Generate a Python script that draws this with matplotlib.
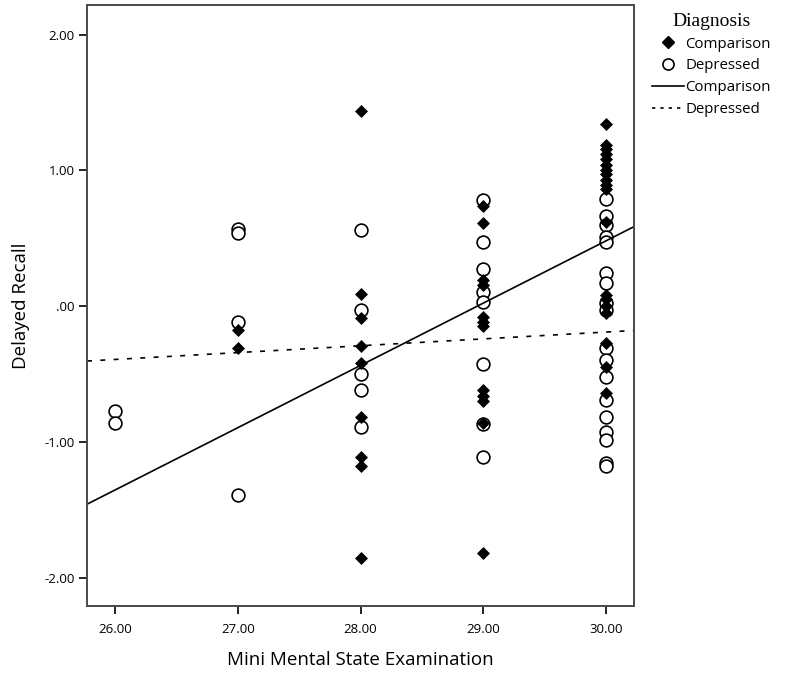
import numpy as np
import matplotlib
matplotlib.use("Agg")
import matplotlib.pyplot as plt
from matplotlib.lines import Line2D

# Comparison group (filled diamonds)
comp_x = [27, 27,
          28, 28, 28, 28, 28, 28, 28, 28, 28,
          29, 29, 29, 29, 29, 29, 29, 29, 29, 29, 29, 29,
          30, 30, 30, 30, 30, 30, 30, 30, 30, 30, 30, 30, 30, 30, 30, 30, 30, 30, 30]
comp_y = [-0.18, -0.31,
          1.44, 0.088, -0.09, -0.295, -0.42, -0.82, -1.115, -1.18, -1.855,
          0.737, 0.61, 0.19, 0.155, -0.08, -0.115, -0.15, -0.62, -0.66, -0.70, -0.86, -1.82,
          1.34, 1.19, 1.16, 1.12, 1.08, 1.04, 1.00, 0.97, 0.93, 0.89, 0.86, 0.62,
          0.08, 0.05, 0.00, -0.05, -0.275, -0.45, -0.64]

# Depressed group (open circles)
dep_x = [26, 26,
         27, 27, 27, 27,
         28, 28, 28, 28, 28,
         29, 29, 29, 29, 29, 29, 29, 29,
         30, 30, 30, 30, 30, 30, 30, 30, 30, 30, 30, 30, 30, 30, 30, 30, 30, 30]
dep_y = [-0.77, -0.86,
         0.57, 0.54, -0.12, -1.39,
         0.56, -0.03, -0.50, -0.62, -0.89,
         0.78, 0.47, 0.27, 0.105, 0.03, -0.43, -0.87, -1.11,
         0.786, 0.66, 0.60, 0.51, 0.47, 0.245, 0.17, 0.02, -0.03,
         -0.31, -0.40, -0.52, -0.69, -0.82, -0.93, -0.99, -1.16, -1.18]

# fit lines: value at x = 25.77 and x = 30.23
fit_x = [25.77, 30.23]
comp_fit = [-1.46, 0.585]
dep_fit = [-0.405, -0.18]

xticks = [26, 27, 28, 29, 30]
xlabels = ["26.00", "27.00", "28.00", "29.00", "30.00"]
yticks = [-2, -1, 0, 1, 2]
ylabels = ["-2.00", "-1.00", ".00", "1.00", "2.00"]

plt.rcParams["font.family"] = ["Open Sans", "DejaVu Sans"]

fig = plt.figure(figsize=(8, 6.75), dpi=100)
ax = fig.add_axes([0.10875, 0.1022, 0.68375, 0.8904])

ax.plot(dep_x, dep_y, ls="", marker="o", ms=9.2, mfc="white", mec="black", mew=1.2)
ax.plot(comp_x, comp_y, ls="", marker="D", ms=6, mfc="black", mec="black", mew=0.5)
ax.plot(fit_x, comp_fit, color="black", lw=1.2)
ax.plot(fit_x, dep_fit, color="black", lw=1.2, dashes=(3, 5))

ax.set_xlim(25.77, 30.23)
ax.set_ylim(-2.21, 2.218)
ax.set_xticks(xticks)
ax.set_xticklabels(xlabels)
ax.set_yticks(yticks)
ax.set_yticklabels(ylabels)
ax.tick_params(direction="out", length=6, width=1.2, labelsize=9.5, colors="black")
ax.tick_params(axis="x", pad=6)
ax.tick_params(axis="y", pad=3)
for s in ax.spines.values():
    s.set_color("#4a4a4a")
    s.set_linewidth(1.4)

ax.set_xlabel("Mini Mental State Examination", fontsize=13.5, labelpad=11)
ax.set_ylabel("Delayed Recall", fontsize=13.5, labelpad=10)

handles = [
    Line2D([], [], ls="", marker="D", ms=6, mfc="black", mec="black"),
    Line2D([], [], ls="", marker="o", ms=8, mfc="white", mec="black", mew=1.2),
    Line2D([], [], color="black", lw=1.2),
    Line2D([], [], color="black", lw=1.2, dashes=(2, 3)),
]
labels = ["Comparison", "Depressed", "Comparison", "Depressed"]
leg = fig.legend(handles, labels, loc="upper left", bbox_to_anchor=(0.808, 0.99),
                 frameon=False, fontsize=10.8, title="Diagnosis",
                 handlelength=2.1, handletextpad=0.1, labelspacing=0.45,
                 borderaxespad=0)
leg.get_title().set_fontfamily("Liberation Serif")
leg.get_title().set_fontsize(14)

fig.savefig("out.png", dpi=100)
